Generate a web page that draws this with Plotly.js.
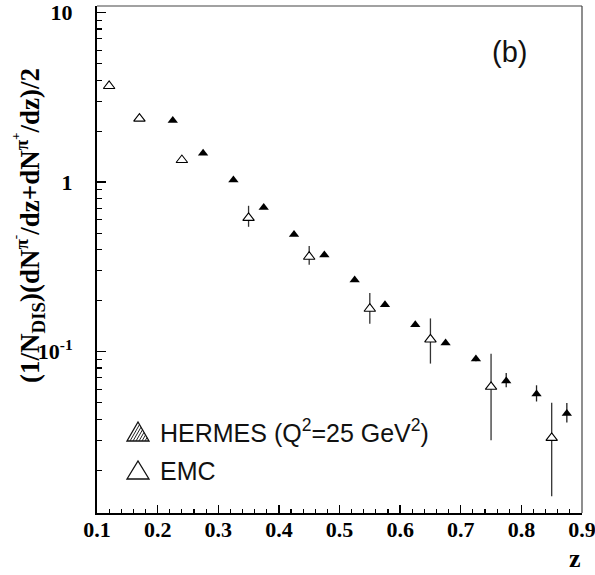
<!DOCTYPE html>
<html>
<head>
<meta charset="utf-8">
<script src="https://cdn.plot.ly/plotly-3.0.1.min.js"></script>
<style>
  html, body { margin: 0; padding: 0; background: #fff; }
  #plot { width: 595px; height: 575px; }
</style>
</head>
<body>
<div id="plot"></div>
<script>
// HERMES pion multiplicities (filled triangles)
const hermesZ = [0.225, 0.275, 0.325, 0.375, 0.425, 0.475, 0.525, 0.575, 0.625, 0.675, 0.725, 0.775, 0.825, 0.875];
const hermesVal = [2.31, 1.48, 1.03, 0.709, 0.491, 0.372, 0.265, 0.189, 0.144, 0.1125, 0.0906, 0.0672, 0.0563, 0.0432];
const hermesErrUp = [0.03, 0.02, 0.015, 0.01, 0.008, 0.006, 0.005, 0.004, 0.003, 0.003, 0.003, 0.0075, 0.0070, 0.0065];
const hermesErrDn = [0.03, 0.02, 0.015, 0.01, 0.008, 0.006, 0.005, 0.004, 0.003, 0.003, 0.003, 0.0055, 0.0055, 0.0050];

// EMC pion multiplicities (open triangles)
const emcZ = [0.12, 0.17, 0.24, 0.35, 0.45, 0.55, 0.65, 0.75, 0.85];
const emcVal = [3.69, 2.37, 1.35, 0.615, 0.363, 0.179, 0.118, 0.062, 0.031];
const emcErrUp = [0.05, 0.04, 0.03, 0.11, 0.057, 0.043, 0.039, 0.035, 0.019];
const emcErrDn = [0.05, 0.04, 0.03, 0.07, 0.038, 0.033, 0.033, 0.032, 0.017];

// Axis ticks
const xTicks = [0.1, 0.2, 0.3, 0.4, 0.5, 0.6, 0.7, 0.8, 0.9];
const yTicks = [0.1, 1, 10];
const yTickText = ['10<sup>-1</sup>', '1', '10'];
const yMinorTicks = [0.02, 0.03, 0.04, 0.05, 0.06, 0.07, 0.08, 0.09,
                     0.2, 0.3, 0.4, 0.5, 0.6, 0.7, 0.8, 0.9,
                     2, 3, 4, 5, 6, 7, 8, 9];

// Frame geometry (pixels)
const W = 595, H = 575;
const M = { l: 97, r: 13, t: 6, b: 62 };
const PW = W - M.l - M.r, PH = H - M.t - M.b;
const px = x => (x - M.l) / PW;
const py = y => (H - M.b - y) / PH;

const serif = 'Liberation Serif, Times New Roman, serif';
const sans = 'Liberation Sans, Arial, sans-serif';

const traces = [
  {
    x: emcZ, y: emcVal, type: 'scatter', mode: 'markers', name: 'EMC',
    marker: { symbol: 'triangle-up', size: 10, color: '#ffffff', line: { color: '#000', width: 1.1 } },
    error_y: { type: 'data', symmetric: false, array: emcErrUp, arrayminus: emcErrDn,
               width: 0, thickness: 1.3, color: '#333' },
    showlegend: false
  },
  {
    x: hermesZ, y: hermesVal, type: 'scatter', mode: 'markers', name: 'HERMES',
    marker: { symbol: 'triangle-up', size: 9, color: '#000' },
    error_y: { type: 'data', symmetric: false, array: hermesErrUp, arrayminus: hermesErrDn,
               width: 0, thickness: 1.3, color: '#222' },
    showlegend: false
  }
];

// Legend symbols: hatched triangle (HERMES) and outline triangle (EMC)
function tri(cx, yTop, yBase, halfW) {
  return 'M' + px(cx - halfW) + ',' + py(yBase) +
         ' L' + px(cx) + ',' + py(yTop) +
         ' L' + px(cx + halfW) + ',' + py(yBase) + ' Z';
}
const shapes = [
  { type: 'line', xref: 'paper', yref: 'paper', x0: 0, x1: 1, y0: 1, y1: 1, line: { color: '#444', width: 1.2 } },
  { type: 'line', xref: 'paper', yref: 'paper', x0: 1, x1: 1, y0: 0, y1: 1, line: { color: '#444', width: 1.2 } },
  { type: 'path', xref: 'paper', yref: 'paper', path: tri(138, 422, 441, 11), line: { color: '#111', width: 1.3 } },
  { type: 'path', xref: 'paper', yref: 'paper', path: tri(138, 461, 479, 11), line: { color: '#111', width: 1.3 } }
];
// hatching inside the HERMES symbol, parallel to its left edge
[3, 6, 9, 12, 15, 18].forEach(d => {
  const t = (22 - d) / 22;
  const x0 = 127 + d, y0 = 441;
  const x1 = x0 + 11 * t, y1 = 441 - 19 * t;
  shapes.push({ type: 'line', xref: 'paper', yref: 'paper',
                x0: px(x0), y0: py(y0), x1: px(x1), y1: py(y1),
                line: { color: '#222', width: 1 } });
});

const layout = {
  width: W, height: H,
  margin: M,
  paper_bgcolor: '#fff', plot_bgcolor: '#fff',
  showlegend: false,
  xaxis: {
    range: [0.1, 0.9], tickvals: xTicks, tickformat: '.1f',
    ticks: 'inside', ticklen: 8, tickwidth: 1.3, tickcolor: '#000',
    minor: { dtick: 0.02, tick0: 0.1, ticks: 'inside', ticklen: 4, tickwidth: 1.1, tickcolor: '#000', showgrid: false },
    showline: true, linecolor: '#000', linewidth: 2,
    showgrid: false, zeroline: false,
    ticklabelstandoff: -4,
    ticklabeloverflow: 'allow',
    tickfont: { family: serif, size: 22, color: '#000', weight: 'bold' }
  },
  yaxis: {
    type: 'log', range: [-1.952, 1.039],
    tickvals: yTicks, ticktext: yTickText,
    ticks: 'inside', ticklen: 9, tickwidth: 1.3, tickcolor: '#000',
    minor: { tickmode: 'array', tickvals: yMinorTicks, ticks: 'inside', ticklen: 5, tickwidth: 1.1, tickcolor: '#000', showgrid: false },
    showline: true, linecolor: '#000', linewidth: 2,
    showgrid: false, zeroline: false,
    ticklabelstandoff: 18,
    ticklabeloverflow: 'allow',
    tickfont: { family: serif, size: 22, color: '#000', weight: 'bold' }
  },
  shapes: shapes,
  annotations: [
    { xref: 'paper', yref: 'paper', x: px(28), y: py(226), xanchor: 'center', yanchor: 'middle',
      textangle: -90, showarrow: false,
      text: '(1/N<sub>DIS</sub>)(dN<sup>π<sup>-</sup></sup>/dz+dN<sup>π<sup>+</sup></sup>/dz)/2',
      font: { family: serif, size: 27, color: '#000', weight: 'bold' } },
    { xref: 'paper', yref: 'paper', x: px(575), y: py(575), xanchor: 'center', yanchor: 'bottom',
      showarrow: false, text: 'z', font: { family: serif, size: 26, color: '#000', weight: 'bold' } },
    { xref: 'paper', yref: 'paper', x: px(509.5), y: py(51.7), xanchor: 'center', yanchor: 'middle',
      showarrow: false, text: '(b)', font: { family: sans, size: 29, color: '#111' } },
    { xref: 'paper', yref: 'paper', x: px(158), y: py(431), xanchor: 'left', yanchor: 'middle',
      showarrow: false, text: 'HERMES (Q<sup>2</sup>=25 GeV<sup>2</sup>)', font: { family: sans, size: 25, color: '#111' } },
    { xref: 'paper', yref: 'paper', x: px(158), y: py(471), xanchor: 'left', yanchor: 'middle',
      showarrow: false, text: 'EMC', font: { family: sans, size: 25, color: '#111' } }
  ]
};

Plotly.newPlot('plot', traces, layout, { staticPlot: true, displayModeBar: false });
</script>
</body>
</html>
